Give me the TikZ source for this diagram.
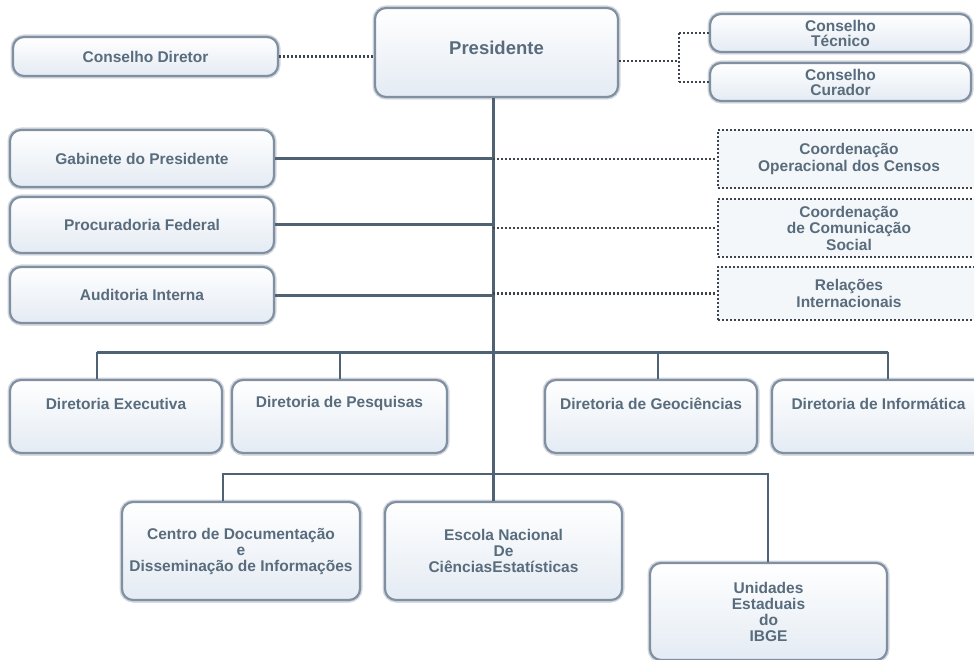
\documentclass[tikz,border=0pt]{standalone}
\usepackage{fontspec}
\setmainfont{Liberation Sans}
\usetikzlibrary{shadows}
\definecolor{txt}{RGB}{88,108,125}
\definecolor{edge}{RGB}{128,144,162}
\definecolor{trunk}{RGB}{78,98,115}
\definecolor{dots}{RGB}{62,68,76}
\definecolor{glow}{RGB}{228,235,243}
\newcommand\lift[2]{\raisebox{#1}[\height][\depth]{#2}}
\tikzset{
  box/.style={draw=edge, line width=2.2pt, rounded corners=11pt, top color=white, bottom color=glow,
    drop shadow={opacity=0.3, shadow xshift=0pt, shadow yshift=-2.5pt},
    preaction={draw=edge!35, line width=5pt},
    inner sep=0pt, align=center, text=txt,
    font=\bfseries\fontsize{15.5}{16}\selectfont},
  dbox/.style={draw=dots, line width=2.2pt, dash pattern=on 2pt off 2pt, fill=glow!40,
    inner sep=0pt, align=center, text=txt,
    font=\bfseries\fontsize{15.5}{16.5}\selectfont},
  trunkline/.style={draw=trunk, line width=3pt},
  thinline/.style={draw=trunk, line width=1.5pt},
  dotline/.style={draw=dots, line width=2.2pt, dash pattern=on 2pt off 2pt},
}
\begin{document}
\begin{tikzpicture}[x=1pt,y=-1pt]
\useasboundingbox (0,0) rectangle (974,660);
\fill[white] (0,0) rectangle (974,660);
% top row
\node[box, minimum width=265pt, minimum height=39pt] (cd) at (145.5,56.5) {Conselho Diretor};
\node[box, minimum width=243pt, minimum height=89pt, font=\bfseries\fontsize{18.5}{20}\selectfont] (pres) at (496.5,52.5) {\lift{4.5pt}{Presidente}};
\node[box, minimum width=261pt, minimum height=38pt, font=\bfseries\fontsize{15.5}{15}\selectfont] (tec) at (840.5,33) {Conselho\\Técnico};
\node[box, minimum width=261pt, minimum height=38pt, font=\bfseries\fontsize{15.5}{15}\selectfont] (cur) at (840.5,82) {Conselho\\Curador};
% left staff
\node[box, minimum width=264pt, minimum height=57pt] (gab) at (142,158.5) {Gabinete do Presidente};
\node[box, minimum width=264pt, minimum height=56pt] (pro) at (142,225) {Procuradoria Federal};
\node[box, minimum width=264pt, minimum height=56pt] (aud) at (142,295) {Auditoria Interna};
% right dotted
\node[dbox, minimum width=262pt, minimum height=58pt] (coo) at (849,159) {Coordenação\\Operacional dos Censos};
\node[dbox, minimum width=262pt, minimum height=58pt] (com) at (849,228) {Coordenação\\de Comunicação\\Social};
\node[dbox, minimum width=262pt, minimum height=53pt] (rel) at (849,293.5) {Relações\\Internacionais};
% directorates
\node[box, minimum width=212pt, minimum height=73pt] (dex) at (116,416.5) {\lift{13pt}{Diretoria Executiva}};
\node[box, minimum width=215pt, minimum height=73pt] (dpe) at (339.5,416.5) {\lift{13pt}{Diretoria de Pesquisas}};
\node[box, minimum width=212pt, minimum height=73pt] (dge) at (651,416.5) {\lift{13pt}{Diretoria de Geociências}};
\node[box, minimum width=213pt, minimum height=73pt] (din) at (878.5,416.5) {\lift{13pt}{Diretoria de Informática}};
% bottom
\node[box, minimum width=238pt, minimum height=98pt] (cen) at (241,551) {Centro de Documentação\\e\\Disseminação de Informações};
\node[box, minimum width=237pt, minimum height=98pt] (esc) at (503.5,551) {Escola Nacional\\De\\CiênciasEstatísticas};
\node[box, minimum width=237pt, minimum height=97pt] (uni) at (768.5,611.5) {Unidades\\Estaduais\\do\\IBGE};
% coordinates
\coordinate (tx) at (493,0);
\coordinate (sp) at (679,61);
\coordinate (d1) at (97,352);
\coordinate (d2) at (340,352);
\coordinate (d3) at (658,352);
\coordinate (d4) at (888,352);
\coordinate (b1) at (223,474);
\coordinate (b2) at (768,474);
% connectors
\draw[trunkline] (pres.south -| tx) -- (esc.north -| tx);
\draw[trunkline] (gab.east) -- (gab.east -| tx);
\draw[trunkline] (pro.east) -- (pro.east -| tx);
\draw[trunkline] (aud.east) -- (aud.east -| tx);
\draw[dotline] (tx |- coo.west) -- (coo.west);
\draw[dotline] (tx |- com.west) -- (com.west);
\draw[dotline] (tx |- rel.west) -- (rel.west);
\draw[trunkline] (d1) -- (d4);
\draw[thinline] (d1) -- (d1 |- dex.north);
\draw[thinline] (d2) -- (d2 |- dpe.north);
\draw[thinline] (d3) -- (d3 |- dge.north);
\draw[thinline] (d4) -- (d4 |- din.north);
\draw[thinline] (b1 |- cen.north) -- (b1) -- (b2) -- (b2 |- uni.north);
\draw[dotline] (cd.east) -- (cd.east -| pres.west);
\draw[dotline] (pres.east |- sp) -- (sp);
\draw[dotline] (sp |- tec.west) -- (sp |- cur.west);
\draw[dotline] (sp |- tec.west) -- (tec.west);
\draw[dotline] (sp |- cur.west) -- (cur.west);
\end{tikzpicture}
\end{document}
